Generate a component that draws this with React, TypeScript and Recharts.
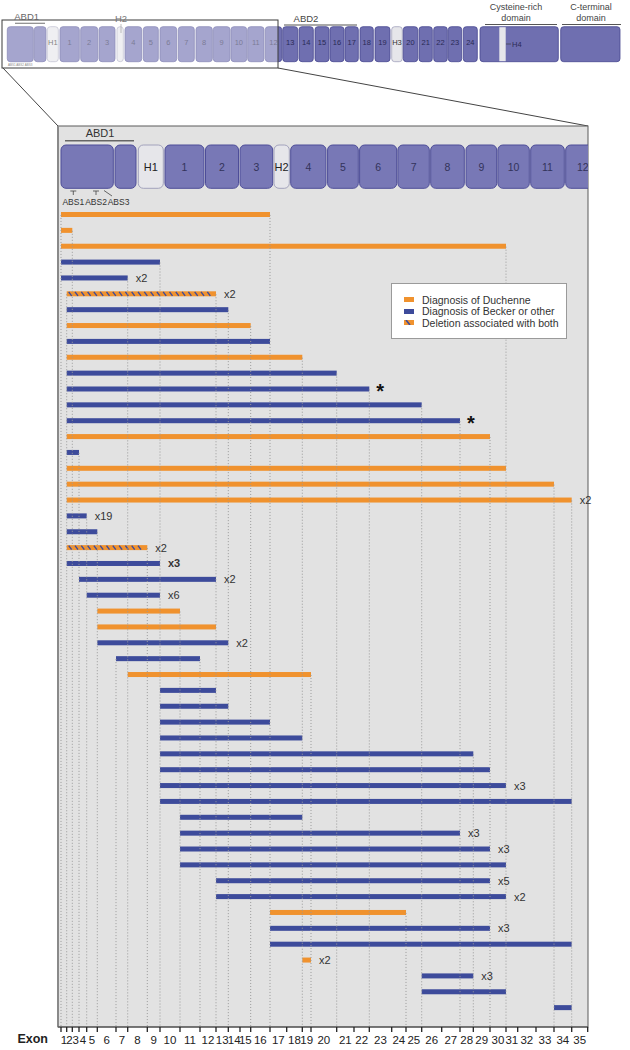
import React from 'react';
import { BarChart, Bar, XAxis, YAxis, LabelList, ReferenceLine, Legend, Label } from 'recharts';

const FONT = '"Liberation Sans", Arial, sans-serif';
const NARROW = '"Liberation Sans Narrow", "Liberation Sans", Arial, sans-serif';

// Exon axis: labels and relative exon widths (scale of the exon axis)
const EXON_LABELS = ['1','2','3','4','5','6','7','8','9','10','11','12','13','14','15','16','17','18','19','20','21','22','23','24','25','26','27','28','29','30','31','32','33','34','35'];
const EXON_WIDTHS = [5.7,5.6,6.7,7.7,10.6,18.7,11.7,19.6,12.7,20,20,16,12.3,11.7,10.7,19.3,16.7,15.6,8.7,25.7,17.3,15.3,22.4,14.3,15.7,20,18.3,13.3,16.7,16,11.7,18.3,18,17.7,16];
const EXON_LEAD = 3;
const AXIS_MAX = 530;

// Deletions: first exon, last exon, phenotype (D = Duchenne, B = Becker/other, H = both), note
const DEL_START = [1,1,1,1,1, 2,2,2,2,2,2,2,2,2,2,2,2,2,2,2,2,2,2, 4,5,6,6,6,7,8, 10,10,10,10,10,10,10,10, 11,11,11,11, 13,13, 17,17,17, 19, 26,26, 34];
const DEL_END = [16,2,30,9,7, 12,13,15,16,18,20,22,25,27,29,3,30,33,34,4,5,8,9, 12,9,10,12,13,11,19, 12,13,16,18,28,29,30,34, 18,27,29,30, 29,30, 24,29,34, 19, 28,30, 34];
const DEL_TYPE = ['D','D','D','B','B','H','B','D','B','D','B','B','B','B','D','B','D','D','D','B','B','H','B','B','B','D','D','B','B','D','B','B','B','B','B','B','B','B','B','B','B','B','B','B','D','B','B','D','B','B','B'];
const DEL_NOTE = ['','','','','x2','x2','','','','','','*','','*','','','','','x2','x19','','x2','x3','x2','x6','','','x2','','','','','','','','','x3','','','x3','x3','','x5','x2','','x3','','x2','x3','',''];
const NOTE_BOLD = [22];

const LEGEND_LABELS = ['Diagnosis of Duchenne', 'Diagnosis of Becker or other', 'Deletion associated with both'];

const ORANGE = '#f0922e';
const BLUE = '#3d4b9b';

// exon boundaries on the axis
const BOUNDS: number[] = [EXON_LEAD];
EXON_WIDTHS.forEach((w) => BOUNDS.push(BOUNDS[BOUNDS.length - 1] + w));
const CENTERS = EXON_WIDTHS.map((w, i) => BOUNDS[i] + w / 2);
const TICK_INFO = new Map<string, { kind: 'b' | 'c'; label?: string }>();
BOUNDS.forEach((b) => TICK_INFO.set(b.toFixed(3), { kind: 'b' }));
CENTERS.forEach((c, i) => TICK_INFO.set(c.toFixed(3), { kind: 'c', label: EXON_LABELS[i] }));
const TICKS = [...BOUNDS, ...CENTERS];

const rows = DEL_START.map((s, i) => ({
  row: 'r' + i,
  pos: i,
  range: [BOUNDS[s - 1], BOUNDS[DEL_END[i]]],
  type: DEL_TYPE[i],
  note: DEL_NOTE[i],
}));

// dotted guide lines: from the first deletion touching a boundary down to the axis
const guideMap = new Map<number, number>();
DEL_START.forEach((s, i) => {
  [s - 1, DEL_END[i]].forEach((b) => {
    if (!guideMap.has(b)) guideMap.set(b, i);
  });
});
const GUIDES = Array.from(guideMap.entries()).map(([b, r]) => ({ x: BOUNDS[b], row: r }));
const PAD_TOP = 81;
const PAD_BOTTOM = 11;
const AXIS_POS = rows.length - 0.5 + 0.69;

const ExonTick = (props: any) => {
  const { x, y, payload } = props;
  const info = TICK_INFO.get(Number(payload.value).toFixed(3));
  if (!info) return <g />;
  if (info.kind === 'b') {
    return <line x1={x} x2={x} y1={y - 8} y2={y - 3} stroke="#222" strokeWidth={1.3} />;
  }
  return (
    <text x={x} y={y + 9} textAnchor="middle" fontSize={11.5} fill="#222" fontFamily={FONT}>
      {info.label}
    </text>
  );
};

const BarShape = (props: any) => {
  const { x, y, width, height } = props;
  const type = props.payload?.type ?? props.type;
  if (!(width > 0)) return <g />;
  if (type === 'H') {
    const lines = [];
    for (let lx = x + 2; lx + 3 < x + width; lx += 6.3) {
      lines.push(<line key={lx} x1={lx} y1={y + 0.5} x2={lx + 3} y2={y + height - 0.5} stroke={BLUE} strokeWidth={1.4} />);
    }
    return (
      <g>
        <rect x={x} y={y} width={width} height={height} fill={ORANGE} />
        {lines}
      </g>
    );
  }
  return <rect x={x} y={y} width={width} height={height} fill={type === 'D' ? ORANGE : BLUE} />;
};

const NoteLabel = (props: any) => {
  const { value, index } = props;
  if (!value) return <g />;
  const vb = props.viewBox || props;
  const tx = vb.x + vb.width + 8;
  const ty = vb.y + vb.height / 2;
  if (value === '*') {
    return (
      <text x={tx - 1} y={ty + 9} fontSize={20} fontWeight="bold" fill="#111" fontFamily={FONT}>*</text>
    );
  }
  return (
    <text x={tx} y={ty} dy="0.36em" fontSize={11} fill="#333" fontFamily={FONT}
      fontWeight={NOTE_BOLD.includes(index) ? 'bold' : 'normal'}>
      {value}
    </text>
  );
};

const Swatch = ({ i }: { i: number }) => (
  <svg width={10} height={5} style={{ display: 'block' }}>
    <rect x={0} y={0} width={10} height={5} fill={i === 1 ? BLUE : ORANGE} />
    {i === 2 && <line x1={2} y1={0} x2={6} y2={5} stroke={BLUE} strokeWidth={1.6} />}
  </svg>
);

const LegendBox = () => (
  <div style={{ width: 176, height: 56, background: '#fff', border: '1px solid #9a9a9a', boxSizing: 'border-box',
    padding: '10px 0 0 12px', fontFamily: FONT, fontSize: 10.5, color: '#333' }}>
    {LEGEND_LABELS.map((l, i) => (
      <div key={l} style={{ display: 'flex', alignItems: 'center', height: 11.6 }}>
        <Swatch i={i} />
        <span style={{ marginLeft: 8, whiteSpace: 'nowrap' }}>{l}</span>
      </div>
    ))}
  </div>
);

// ---- illustration (protein domain diagrams) ----
type Seg = { l: string; x0: number; x1: number; k?: 'h' | 'c' };
const OVERVIEW: Seg[] = [
  { l: '', x0: 7.3, x1: 33.3 }, { l: '', x0: 34.3, x1: 46 }, { l: 'H1', x0: 47.3, x1: 58.3, k: 'h' },
  { l: '1', x0: 60, x1: 79.3 }, { l: '2', x0: 80.7, x1: 97.7 }, { l: '3', x0: 99, x1: 115 },
  { l: '', x0: 117, x1: 123.3, k: 'h' }, { l: '4', x0: 125, x1: 141.7 }, { l: '5', x0: 143.3, x1: 158.3 },
  { l: '6', x0: 160, x1: 176.7 }, { l: '7', x0: 178.3, x1: 194.3 }, { l: '8', x0: 196, x1: 212.3 },
  { l: '9', x0: 213.3, x1: 230 }, { l: '10', x0: 231, x1: 246.7 }, { l: '11', x0: 247.7, x1: 264 },
  { l: '12', x0: 265.3, x1: 281.7 }, { l: '13', x0: 282.7, x1: 297.7 }, { l: '14', x0: 299, x1: 313.3 },
  { l: '15', x0: 315, x1: 329 }, { l: '16', x0: 330, x1: 344 }, { l: '17', x0: 345, x1: 358.3 },
  { l: '18', x0: 360, x1: 373.3 }, { l: '19', x0: 375, x1: 390 }, { l: 'H3', x0: 391.7, x1: 402.3, k: 'h' },
  { l: '20', x0: 403.3, x1: 417.7 }, { l: '21', x0: 419, x1: 432.3 }, { l: '22', x0: 433.7, x1: 447.3 },
  { l: '23', x0: 448.3, x1: 461.7 }, { l: '24', x0: 463.3, x1: 477.3 }, { l: '', x0: 480, x1: 558.3, k: 'c' },
  { l: '', x0: 560.7, x1: 620 },
];
const PANEL_SEGS: Seg[] = [
  { l: '', x0: 61, x1: 113.3 }, { l: '', x0: 115, x1: 136 }, { l: 'H1', x0: 138.3, x1: 163.3, k: 'h' },
  { l: '1', x0: 165, x1: 204 }, { l: '2', x0: 205.5, x1: 238.5 }, { l: '3', x0: 240, x1: 272.7 },
  { l: 'H2', x0: 274, x1: 289.3, k: 'h' }, { l: '4', x0: 290.7, x1: 326 }, { l: '5', x0: 327.6, x1: 358.3 },
  { l: '6', x0: 359.6, x1: 396.7 }, { l: '7', x0: 397.9, x1: 429.3 }, { l: '8', x0: 430.7, x1: 464.3 },
  { l: '9', x0: 466, x1: 496.7 }, { l: '10', x0: 497.9, x1: 529.3 }, { l: '11', x0: 530.7, x1: 564.3 },
  { l: '12', x0: 565.7, x1: 600 },
];

const BOX_FILL = '#7878b6';
const BOX_STROKE = '#4d4d98';
const H_FILL = '#e6e6ea';
const H_STROKE = '#a2a2bc';

const Background = () => (
  <svg width={630} height={1050} style={{ position: 'absolute', left: 0, top: 0 }} fontFamily={FONT}>
    {/* overview */}
    {OVERVIEW.map((s, i) => (
      <g key={'o' + i}>
        <rect x={s.x0} y={26.7} width={s.x1 - s.x0} height={35} rx={3}
          fill={s.k === 'h' ? H_FILL : '#6f6fb0'} stroke={s.k === 'h' ? H_STROKE : '#46468f'} strokeWidth={0.8} />
        {s.l && (
          <text x={(s.x0 + s.x1) / 2} y={44.5} textAnchor="middle" fontSize={7.5} fill={s.k === 'h' ? '#333' : '#2a2a55'}>
            {s.l}
          </text>
        )}
      </g>
    ))}
    <rect x={499.3} y={27.2} width={6.4} height={34} fill={H_FILL} />
    <line x1={506} y1={44} x2={511} y2={44} stroke="#333" strokeWidth={0.6} />
    <text x={512} y={46.5} fontSize={7.5} fill="#2a2a55">H4</text>
    <rect x={2} y={20} width={276} height={48} fill="#ffffff" fillOpacity={0.38} />
    <rect x={2} y={20} width={276} height={48} fill="none" stroke="#3a3a3a" strokeWidth={1} />
    <text x={26.7} y={20} textAnchor="middle" fontSize={9.5} fill="#666">ABD1</text>
    <line x1={15} y1={23.3} x2={45} y2={23.3} stroke="#888" strokeWidth={1.2} />
    <text x={121} y={22} textAnchor="middle" fontSize={9.5} fill="#777">H2</text>
    <line x1={121} y1={24} x2={121} y2={33} stroke="#999" strokeWidth={0.6} />
    <text x={8} y={66} fontSize={3} fill="#888">ABS1  ABS2 ABS3</text>
    <text x={306} y={22} textAnchor="middle" fontSize={9.5} fill="#444">ABD2</text>
    <line x1={284} y1={25} x2={357} y2={25} stroke="#555" strokeWidth={1.2} />
    <text x={516} y={10} textAnchor="middle" fontSize={9} fill="#444">Cysteine-rich</text>
    <text x={516} y={21} textAnchor="middle" fontSize={9} fill="#444">domain</text>
    <line x1={485} y1={24.5} x2={557} y2={24.5} stroke="#555" strokeWidth={1.2} />
    <text x={591} y={10} textAnchor="middle" fontSize={9} fill="#444">C-terminal</text>
    <text x={591} y={21} textAnchor="middle" fontSize={9} fill="#444">domain</text>
    <line x1={562} y1={24.5} x2={621} y2={24.5} stroke="#555" strokeWidth={1.2} />
    {/* zoom lines */}
    <line x1={3} y1={68} x2={58} y2={126} stroke="#444" strokeWidth={1} />
    <line x1={278} y1={68} x2={588} y2={126} stroke="#444" strokeWidth={1} />
    {/* panel */}
    <rect x={58} y={126} width={530} height={901} fill="#e2e2e2" stroke="#5a5a5a" strokeWidth={1} />
    <line x1={58} y1={126} x2={58} y2={1027} stroke="#8a8a8a" strokeWidth={2} />
    <defs>
      <clipPath id="panelClip"><rect x={58} y={126} width={530} height={901} /></clipPath>
    </defs>
    <g clipPath="url(#panelClip)">
      {PANEL_SEGS.map((s, i) => (
        <g key={'p' + i}>
          <rect x={s.x0} y={145} width={s.x1 - s.x0} height={43.3} rx={5}
            fill={s.k === 'h' ? H_FILL : BOX_FILL} stroke={s.k === 'h' ? H_STROKE : BOX_STROKE} strokeWidth={1} />
          {s.l && (
            <text x={(s.x0 + s.x1) / 2} y={170.5} textAnchor="middle" fontSize={s.k === 'h' ? 11 : 10.5}
              fill={s.k === 'h' ? '#222' : '#33335a'}>{s.l}</text>
          )}
        </g>
      ))}
    </g>
    <text x={100} y={137} textAnchor="middle" fontSize={11} fill="#333">ABD1</text>
    <line x1={65} y1={140.7} x2={134} y2={140.7} stroke="#666" strokeWidth={1.5} />
    {[73.3, 96].map((x) => (
      <g key={x}>
        <line x1={x - 3} y1={191} x2={x + 3} y2={191} stroke="#444" strokeWidth={0.8} />
        <line x1={x} y1={191} x2={x} y2={195} stroke="#444" strokeWidth={0.8} />
      </g>
    ))}
    <line x1={104} y1={190.5} x2={112} y2={196} stroke="#444" strokeWidth={0.8} />
    <text x={73.3} y={205} textAnchor="middle" fontSize={8.5} fill="#333" fontFamily={NARROW}>ABS1</text>
    <text x={96} y={205} textAnchor="middle" fontSize={8.5} fill="#333" fontFamily={NARROW}>ABS2</text>
    <text x={118.5} y={205} textAnchor="middle" fontSize={8.5} fill="#333" fontFamily={NARROW}>ABS3</text>
  </svg>
);

export default function App() {
  return (
    <div style={{ position: 'absolute', left: 0, top: 0, width: 630, height: 1050, background: '#fff' }}>
      <Background />
      <div style={{ position: 'absolute', left: 0, top: 0 }}>
        <BarChart width={630} height={1050} data={rows} layout="vertical"
          margin={{ top: 126, right: 42, bottom: 0, left: 58 }} barCategoryGap={0}>
          <XAxis type="number" domain={[0, AXIS_MAX]} ticks={TICKS} interval={0} tick={ExonTick}
            tickLine={false} tickSize={6} tickMargin={2} axisLine={{ stroke: '#444', strokeWidth: 1.2 }}
            height={23} allowDataOverflow>
            <Label value="Exon" position="left" offset={10} fill="#222" fontWeight="bold" fontSize={12.5} fontFamily={FONT} />
          </XAxis>
          <YAxis type="category" dataKey="row" hide padding={{ top: PAD_TOP, bottom: PAD_BOTTOM }} />
          <YAxis yAxisId="n" type="number" dataKey="pos" domain={[-0.5, AXIS_POS]} hide
            padding={{ top: PAD_TOP, bottom: 0 }} allowDataOverflow />
          {GUIDES.map((g) => (
            <ReferenceLine key={'g' + g.x} yAxisId="n" ifOverflow="visible"
              segment={[{ x: g.x, y: g.row }, { x: g.x, y: AXIS_POS }]}
              stroke="#9a9a9a" strokeWidth={1} strokeDasharray="1 2" />
          ))}
          <Bar dataKey="range" barSize={5} shape={BarShape} isAnimationActive={false}>
            <LabelList dataKey="note" content={NoteLabel} />
          </Bar>
          <Legend layout="horizontal" verticalAlign="middle" align="center" content={LegendBox}
            wrapperStyle={{ position: 'absolute', left: 391, top: 283, width: 176, height: 56 }} />
        </BarChart>
      </div>
    </div>
  );
}
